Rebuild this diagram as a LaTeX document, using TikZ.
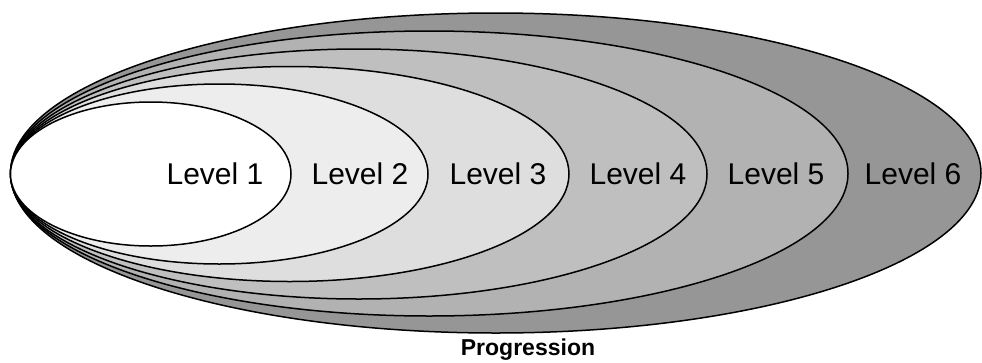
\documentclass[tikz,border=0pt]{standalone}
\usepackage{fontspec}
\setmainfont{Liberation Sans}
\begin{document}
\begin{tikzpicture}[x=1pt,y=-1pt,
  ring/.style={draw=black,line width=1.5pt},
  lvl/.style={anchor=base,inner sep=0pt,font=\fontsize{30}{36}\selectfont},
  captiontext/.style={anchor=base,inner sep=0pt,font=\fontsize{23}{28}\selectfont\bfseries}]
\useasboundingbox (0,0) rectangle (982,362);
% ellipses, outermost first; all share left tip at x=10.5
\filldraw[ring,fill=black!41] (495.75,173) ellipse [x radius=485.25,y radius=160];
\filldraw[ring,fill=black!30] (429.25,173.5) ellipse [x radius=418.75,y radius=142.5];
\filldraw[ring,fill=black!25] (358.75,174) ellipse [x radius=348.25,y radius=125];
\filldraw[ring,fill=black!13] (289.75,174) ellipse [x radius=279.25,y radius=107.5];
\filldraw[ring,fill=black!7] (219.25,174) ellipse [x radius=208.75,y radius=90];
\filldraw[ring,fill=white] (150.75,174) ellipse [x radius=140.25,y radius=72];
% labels
\node[lvl] (l1) at (215,184) {Level 1};
\node[lvl] (l2) at (360,184) {Level 2};
\node[lvl] (l3) at (498,184) {Level 3};
\node[lvl] (l4) at (638,184) {Level 4};
\node[lvl] (l5) at (776,184) {Level 5};
\node[lvl] (l6) at (913,184) {Level 6};
\node[captiontext] (prog) at (528,355) {Progression};
\end{tikzpicture}
\end{document}
